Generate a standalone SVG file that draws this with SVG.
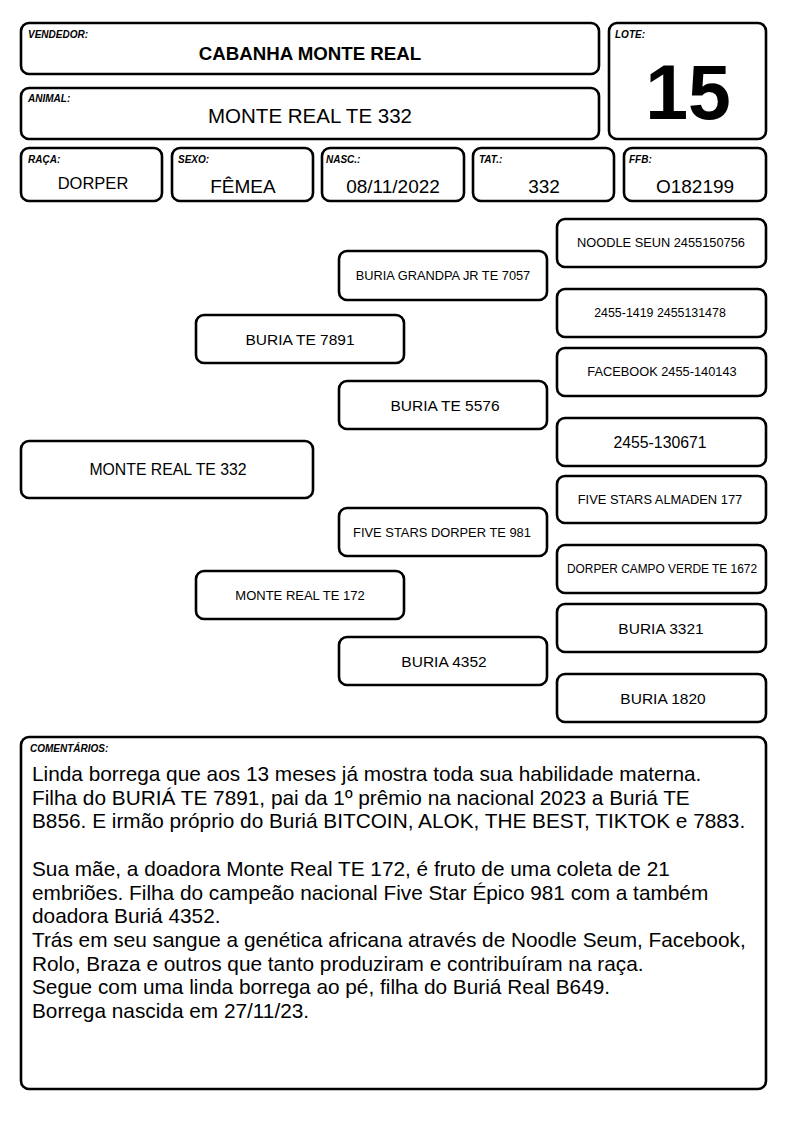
<svg xmlns="http://www.w3.org/2000/svg" width="794" height="1123" viewBox="0 0 794 1123">
<style>
.b{fill:#fff;stroke:#000;stroke-width:2.6}
text{font-family:"Liberation Sans",Arial,sans-serif;fill:#000}
.lb{font-size:10px;font-weight:bold;font-style:italic}
.c{text-anchor:middle}
.v{font-size:19px}
.cm{font-size:20.8px}
</style>
<rect width="794" height="1123" fill="#fff"/>
<g id="vendedor"><rect class="b" x="21" y="23" width="578" height="51" rx="8"/><text class="lb" x="28" y="38">VENDEDOR:</text><text class="c" x="310" y="60" font-size="18.7" font-weight="bold">CABANHA MONTE REAL</text></g>
<g id="animal"><rect class="b" x="21" y="88" width="578" height="51" rx="8"/><text class="lb" x="28" y="102">ANIMAL:</text><text class="c" x="310" y="123" font-size="20.5">MONTE REAL TE 332</text></g>
<g id="lote"><rect class="b" x="609" y="23" width="157" height="116" rx="8"/><text class="lb" x="615" y="38">LOTE:</text><text class="c" x="688" y="119" font-size="77" font-weight="bold">15</text></g>
<g id="raca"><rect class="b" x="21" y="148" width="141" height="53" rx="8"/><text class="lb" x="28" y="163">RAÇA:</text><text class="c" x="93" y="189" font-size="16.5">DORPER</text></g>
<g id="sexo"><rect class="b" x="172" y="148" width="141" height="53" rx="8"/><text class="lb" x="178" y="163">SEXO:</text><text class="c v" x="243" y="193">FÊMEA</text></g>
<g id="nasc"><rect class="b" x="322" y="148" width="142" height="53" rx="8"/><text class="lb" x="326" y="163">NASC.:</text><text class="c v" x="393" y="193">08/11/2022</text></g>
<g id="tat"><rect class="b" x="473" y="148" width="141" height="53" rx="8"/><text class="lb" x="479" y="163">TAT.:</text><text class="c v" x="544" y="193">332</text></g>
<g id="ffb"><rect class="b" x="624" y="148" width="142" height="53" rx="8"/><text class="lb" x="629" y="163">FFB:</text><text class="c v" x="695" y="193">O182199</text></g>
<g id="connectors"></g>
<g id="p-animal"><rect class="b" x="21" y="441" width="292" height="57" rx="8"/><text class="c" x="168" y="475" font-size="15.8">MONTE REAL TE 332</text></g>
<g id="p-pai"><rect class="b" x="196" y="315" width="208" height="48" rx="8"/><text class="c" x="300" y="344.5" font-size="15.5">BURIA TE 7891</text></g>
<g id="p-mae"><rect class="b" x="196" y="571" width="208" height="48" rx="8"/><text class="c" x="300" y="599.5" font-size="13">MONTE REAL TE 172</text></g>
<g id="p-pp"><rect class="b" x="339" y="251" width="208" height="49" rx="8"/><text class="c" x="443" y="280" font-size="12.8">BURIA GRANDPA JR TE 7057</text></g>
<g id="p-pm"><rect class="b" x="339" y="381" width="208" height="48" rx="8"/><text class="c" x="445" y="410.5" font-size="15.5">BURIA TE 5576</text></g>
<g id="p-mp"><rect class="b" x="339" y="508" width="208" height="48" rx="8"/><text class="c" x="442" y="536.5" font-size="12.9">FIVE STARS DORPER TE 981</text></g>
<g id="p-mm"><rect class="b" x="339" y="637" width="208" height="48" rx="8"/><text class="c" x="444" y="666.5" font-size="15.5">BURIA 4352</text></g>
<g id="p-ppp"><rect class="b" x="557" y="219" width="209" height="48" rx="8"/><text class="c" x="661" y="247" font-size="12.8">NOODLE SEUN 2455150756</text></g>
<g id="p-ppm"><rect class="b" x="557" y="289" width="209" height="48" rx="8"/><text class="c" x="660" y="317" font-size="12.4">2455-1419 2455131478</text></g>
<g id="p-pmp"><rect class="b" x="557" y="348" width="209" height="48" rx="8"/><text class="c" x="662" y="376" font-size="12.8">FACEBOOK 2455-140143</text></g>
<g id="p-pmm"><rect class="b" x="557" y="418" width="209" height="48" rx="8"/><text class="c" x="660" y="447.5" font-size="15.8">2455-130671</text></g>
<g id="p-mpp"><rect class="b" x="557" y="476" width="209" height="47" rx="8"/><text class="c" x="660" y="504" font-size="12.9">FIVE STARS ALMADEN 177</text></g>
<g id="p-mpm"><rect class="b" x="557" y="545" width="209" height="48" rx="8"/><text class="c" x="662" y="573" font-size="11.9">DORPER CAMPO VERDE TE 1672</text></g>
<g id="p-mmp"><rect class="b" x="557" y="604" width="209" height="48" rx="8"/><text class="c" x="661" y="633.5" font-size="15.5">BURIA 3321</text></g>
<g id="p-mmm"><rect class="b" x="557" y="674" width="209" height="48" rx="8"/><text class="c" x="663" y="703.5" font-size="15.5">BURIA 1820</text></g>
<g id="comentarios"><rect class="b" x="21" y="737" width="745" height="352" rx="8"/><text class="lb" x="30" y="752">COMENTÁRIOS:</text>
<text class="cm" x="32" y="781">
<tspan x="32" y="781">Linda borrega que aos 13 meses já mostra toda sua habilidade materna.</tspan>
<tspan x="32" y="804.7">Filha do BURIÁ TE 7891, pai da 1º prêmio na nacional 2023 a Buriá TE</tspan>
<tspan x="32" y="828.4">B856. E irmão próprio do Buriá BITCOIN, ALOK, THE BEST, TIKTOK e 7883.</tspan>
<tspan x="32" y="875.8">Sua mãe, a doadora Monte Real TE 172, é fruto de uma coleta de 21</tspan>
<tspan x="32" y="899.5">embriões. Filha do campeão nacional Five Star Épico 981 com a também</tspan>
<tspan x="32" y="923.2">doadora Buriá 4352.</tspan>
<tspan x="32" y="946.9">Trás em seu sangue a genética africana através de Noodle Seum, Facebook,</tspan>
<tspan x="32" y="970.6">Rolo, Braza e outros que tanto produziram e contribuíram na raça.</tspan>
<tspan x="32" y="994.3">Segue com uma linda borrega ao pé, filha do Buriá Real B649.</tspan>
<tspan x="32" y="1018">Borrega nascida em 27/11/23.</tspan>
</text></g>
</svg>
